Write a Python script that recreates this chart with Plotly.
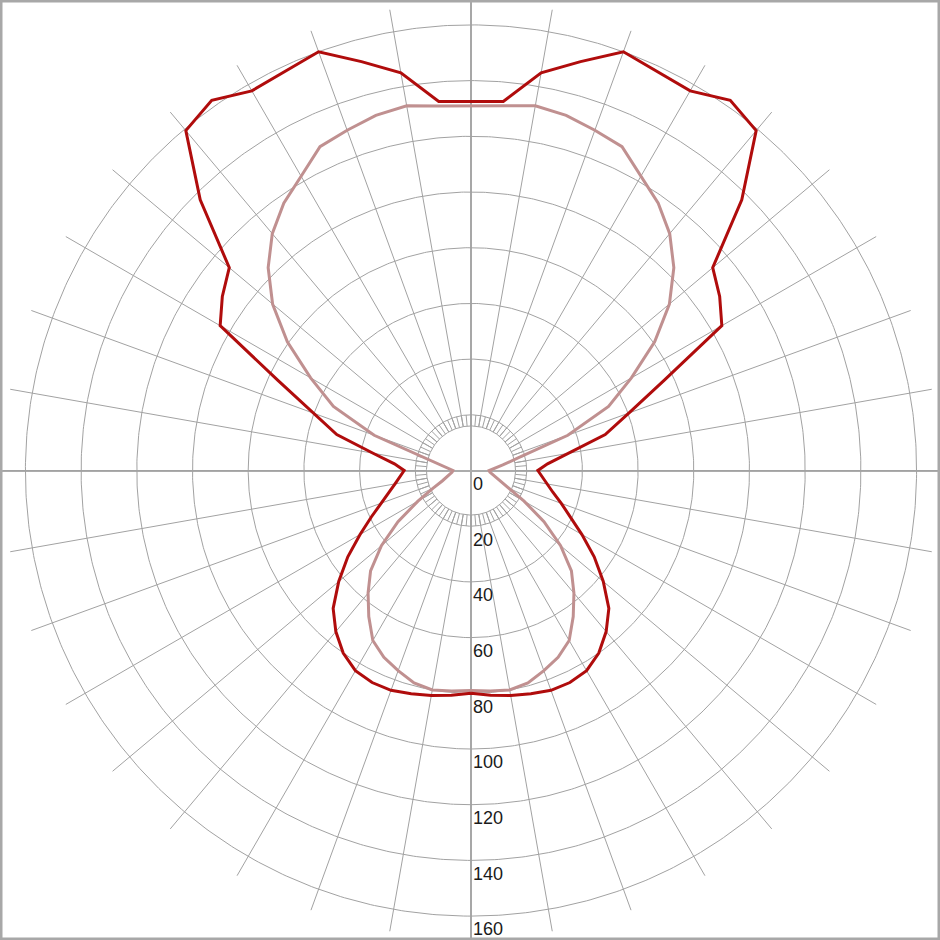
import numpy as np
import plotly.graph_objects as go

# ---- data (gamma angle from nadir, degrees) ----
gamma = list(range(0, 181, 5))
dark_curve = [80, 81, 82, 83, 84, 84, 83, 80, 75.5, 70, 62, 54, 46, 39.5, 34.5, 30.5,
              27.7, 25.5, 24, 27.6, 35.7, 49.9, 60.4, 76.5, 104, 109, 113.3, 137.5,
              159.3, 162.3, 157.4, 158, 160, 152, 145, 133, 132.5]
light_curve = [79, 79.5, 80, 79, 76.5, 74, 70.5, 64, 57.5, 51, 42, 32, 22, 15, 11, 9,
               7.7, 6.8, 6.5, 8.6, 11.6, 17.7, 37, 54.5, 66.5, 80.5, 93, 103, 111,
               117.2, 122, 128.3, 130, 132, 133, 131.4, 131]
radial_ticks = [0, 20, 40, 60, 80, 100, 120, 140, 160]

# ---- grid settings ----
spoke_step = 10
band_step = 5
inner_ring = 16
spoke_end = 168
px_per_unit = 2.785
W = 940
cx, cy = 471, 470.5

GRID = "#a2a2a2"


def polar_xy(r, g_deg):
    g = np.deg2rad(np.asarray(g_deg, dtype=float))
    r = np.asarray(r, dtype=float)
    return r * np.sin(g), -r * np.cos(g)


def curve_xy(vals):
    xr, yr = polar_xy(vals, gamma)
    x = np.concatenate([xr, -xr[::-1]])
    y = np.concatenate([yr, yr[::-1]])
    return x, y


fig = go.Figure()

# circles
cxs, cys = [], []
t = np.linspace(0, 360, 721)
for v in [inner_ring] + radial_ticks[1:]:
    x, y = polar_xy(np.full_like(t, v), t)
    cxs += list(x) + [None]
    cys += list(y) + [None]
fig.add_trace(go.Scatter(x=cxs, y=cys, mode="lines",
                         line=dict(color=GRID, width=1), hoverinfo="skip"))

# spokes
sx, sy = [], []
for a in range(0, 360, spoke_step):
    x, y = polar_xy([inner_ring, spoke_end], [a, a])
    sx += list(x) + [None]
    sy += list(y) + [None]
# band ticks
for a in range(0, 360, band_step):
    x, y = polar_xy([inner_ring, radial_ticks[1]], [a, a])
    sx += list(x) + [None]
    sy += list(y) + [None]
fig.add_trace(go.Scatter(x=sx, y=sy, mode="lines",
                         line=dict(color=GRID, width=1), hoverinfo="skip"))

# curves
lx, ly = curve_xy(light_curve)
fig.add_trace(go.Scatter(x=lx, y=ly, mode="lines",
                         line=dict(color="#c09090", width=3)))
dx, dy = curve_xy(dark_curve)
fig.add_trace(go.Scatter(x=dx, y=dy, mode="lines",
                         line=dict(color="#b00c0c", width=3)))

# radial labels
for v in radial_ticks:
    fig.add_annotation(x=0.1, y=-(v + 4.8), text=str(v), showarrow=False,
                       xanchor="left", yanchor="middle",
                       font=dict(family="Arial, Liberation Sans, sans-serif",
                                 size=18, color="#1a1a1a"))

k = px_per_unit
fig.update_layout(
    width=W, height=W,
    margin=dict(l=0, r=0, t=0, b=0),
    paper_bgcolor="white", plot_bgcolor="white",
    showlegend=False,
    xaxis=dict(range=[-cx / k, (W - cx) / k], showgrid=False, zeroline=True,
               zerolinecolor="#acacac", zerolinewidth=2, showticklabels=False,
               ticks="", fixedrange=True),
    yaxis=dict(range=[-(W - cy) / k, cy / k], showgrid=False, zeroline=True,
               zerolinecolor="#acacac", zerolinewidth=2, showticklabels=False,
               ticks="", fixedrange=True),
    shapes=[dict(type="rect", xref="paper", yref="paper", x0=0, y0=0, x1=1, y1=1,
                 line=dict(color="#a8a8a8", width=5), layer="above")],
)

fig.write_html("out.html", config={"displayModeBar": False},
               post_script="document.body.style.margin='0';document.body.style.overflow='hidden';")
